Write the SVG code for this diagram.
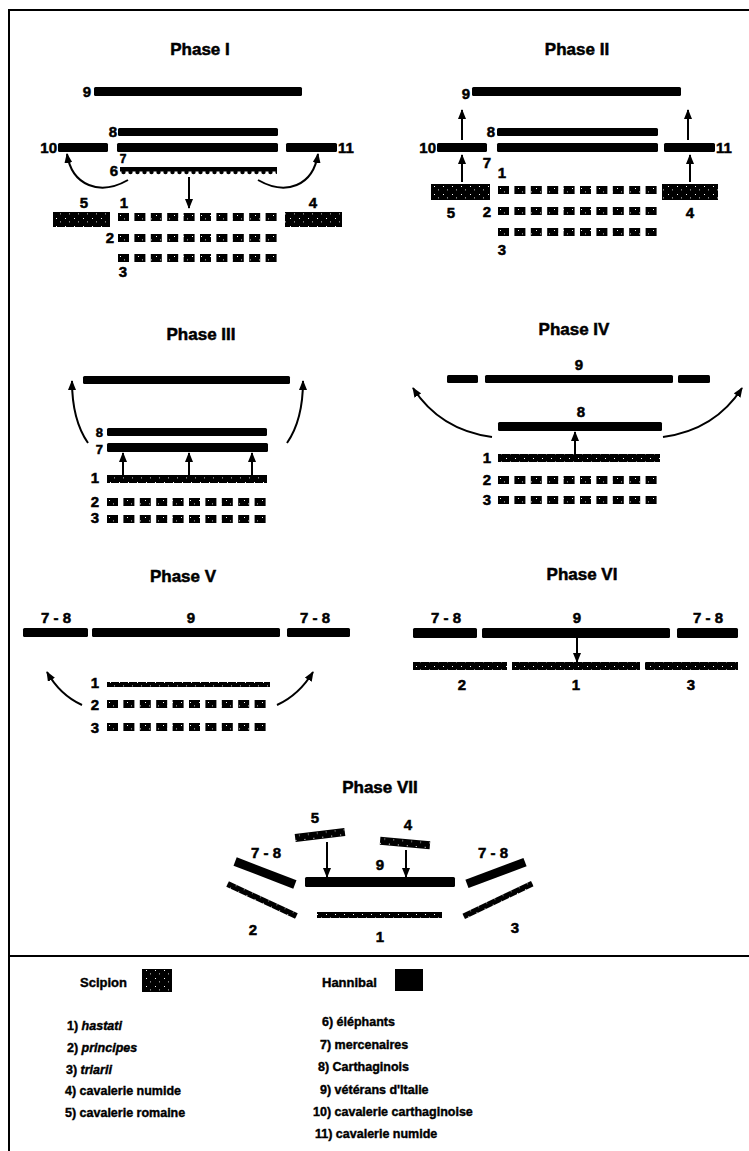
<svg xmlns="http://www.w3.org/2000/svg" xmlns:xlink="http://www.w3.org/1999/xlink" width="749" height="1151" viewBox="0 0 749 1151">
<style>
text{font-family:"Liberation Sans",Arial,Helvetica,sans-serif;font-weight:bold;fill:#000;stroke:#000;stroke-width:0.5}
.t{font-size:17px;text-anchor:middle}
.l{font-size:15px}
.m{text-anchor:middle}
.e{text-anchor:end}
.g{font-size:12.5px;stroke-width:0.4}
.it{font-style:italic}
.bar{fill:#000}
.rom{fill:url(#rom)}
.frame{stroke:#000;stroke-width:2;fill:none}
.arr{stroke:#000;stroke-width:2;fill:none;marker-end:url(#ah)}
</style>
<defs>
<pattern id="rom" width="9" height="8" patternUnits="userSpaceOnUse">
<rect width="9" height="8" fill="#000"/>
<rect x="2" y="2" width="1" height="1" fill="#fff"/>
<rect x="6" y="5.5" width="1" height="0.8" fill="#fff"/>
</pattern>
<pattern id="eleph" x="120" y="167" width="7" height="9" patternUnits="userSpaceOnUse">
<rect width="7" height="4.5" fill="#000"/>
<circle cx="3.5" cy="5" r="2.2" fill="#000"/>
</pattern>
<marker id="ah" viewBox="0 0 10 8" refX="9" refY="4" markerWidth="10" markerHeight="8" markerUnits="userSpaceOnUse" orient="auto">
<path d="M0,0 L10,4 L0,8 z" fill="#000"/>
</marker>
<g id="row">
<rect x="0" width="11" height="8" class="rom"/>
<rect x="16.4" width="11" height="8" class="rom"/>
<rect x="32.8" width="11" height="8" class="rom"/>
<rect x="49.2" width="11" height="8" class="rom"/>
<rect x="65.6" width="11" height="8" class="rom"/>
<rect x="82" width="11" height="8" class="rom"/>
<rect x="98.4" width="11" height="8" class="rom"/>
<rect x="114.8" width="11" height="8" class="rom"/>
<rect x="131.2" width="11" height="8" class="rom"/>
<rect x="147.6" width="11" height="8" class="rom"/>
</g>
</defs>
<rect width="749" height="1151" fill="#fff"/>
<g id="frame">
<path class="frame" d="M9,1151 V10 H749"/>
<path class="frame" d="M9,956 H749"/>
</g>

<g id="phase1">
<text class="t" x="200" y="55">Phase I</text>
<g id="p1-u9"><rect class="bar" x="94" y="87" width="208" height="9" rx="1.5"/><text class="l e" x="91" y="97">9</text></g>
<g id="p1-u8"><rect class="bar" x="118" y="128" width="160" height="8" rx="1.5"/><text class="l e" x="117" y="137">8</text></g>
<g id="p1-u7"><rect class="bar" x="117" y="143" width="161" height="9" rx="1.5"/><text class="m" style="font-size:12px" x="123" y="163">7</text></g>
<g id="p1-u10"><rect class="bar" x="58" y="143" width="50" height="9" rx="1.5"/><text class="l e" x="57" y="153">10</text></g>
<g id="p1-u11"><rect class="bar" x="286" y="143" width="51" height="9" rx="1.5"/><text class="l" x="338" y="153">11</text></g>
<g id="p1-u6"><rect x="120" y="167" width="157" height="8" fill="url(#eleph)"/><text class="l e" x="118" y="176">6</text></g>
<g id="p1-u5"><rect class="rom" x="53" y="212" width="57" height="15"/><text class="l m" x="84" y="208">5</text></g>
<g id="p1-u4"><rect class="rom" x="285" y="212" width="57" height="15"/><text class="l m" x="313" y="208">4</text></g>
<g id="p1-u1"><use xlink:href="#row" x="118" y="213"/><text class="l m" x="124" y="208">1</text></g>
<g id="p1-u2"><use xlink:href="#row" x="118" y="234"/><text class="l e" x="114" y="243">2</text></g>
<g id="p1-u3"><use xlink:href="#row" x="118" y="254"/><text class="l m" x="123" y="277">3</text></g>
</g>

<g id="phase2">
<text class="t" x="577" y="55">Phase II</text>
<g id="p2-u9"><rect class="bar" x="472" y="87" width="209" height="9" rx="1.5"/><text class="l e" x="470" y="99">9</text></g>
<g id="p2-u8"><rect class="bar" x="497" y="128" width="161" height="8" rx="1.5"/><text class="l e" x="495" y="137">8</text></g>
<g id="p2-u7"><rect class="bar" x="497" y="143" width="161" height="9" rx="1.5"/><text class="l m" x="487" y="168">7</text></g>
<g id="p2-u10"><rect class="bar" x="437" y="143" width="50" height="9" rx="1.5"/><text class="l e" x="436" y="153">10</text></g>
<g id="p2-u11"><rect class="bar" x="664" y="143" width="51" height="9" rx="1.5"/><text class="l" x="716" y="153">11</text></g>
<g id="p2-u5"><rect class="rom" x="431" y="184" width="59" height="16"/><text class="l m" x="451" y="218">5</text></g>
<g id="p2-u4"><rect class="rom" x="662" y="184" width="56" height="16"/><text class="l m" x="690" y="218">4</text></g>
<g id="p2-u1"><use xlink:href="#row" x="498" y="186"/><text class="l m" x="502" y="178">1</text></g>
<g id="p2-u2"><use xlink:href="#row" x="498" y="207"/><text class="l e" x="491" y="217">2</text></g>
<g id="p2-u3"><use xlink:href="#row" x="498" y="228"/><text class="l m" x="502" y="255">3</text></g>
</g>

<g id="phase3">
<text class="t" x="201" y="340">Phase III</text>
<g id="p3-u9"><rect class="bar" x="83" y="376" width="207" height="8" rx="1.5"/></g>
<g id="p3-u8"><rect class="bar" x="107" y="428" width="160" height="8" rx="1.5"/><text class="e" style="font-size:13px" x="103" y="437">8</text></g>
<g id="p3-u7"><rect class="bar" x="107" y="443" width="161" height="9" rx="1.5"/><text class="e" style="font-size:13px" x="103" y="454">7</text></g>
<g id="p3-u1"><rect class="rom" x="107" y="475" width="160" height="8"/><text class="l e" x="99" y="483">1</text></g>
<g id="p3-u2"><use xlink:href="#row" x="107" y="498"/><text class="l e" x="99" y="507">2</text></g>
<g id="p3-u3"><use xlink:href="#row" x="107" y="515"/><text class="l e" x="99" y="523">3</text></g>
</g>

<g id="phase4">
<text class="t" x="574" y="335">Phase IV</text>
<g id="p4-u9"><rect class="bar" x="447" y="375" width="31" height="8" rx="1.5"/><rect class="bar" x="485" y="375" width="188" height="8" rx="1.5"/><rect class="bar" x="678" y="375" width="32" height="8" rx="1.5"/><text class="l m" x="579" y="370">9</text></g>
<g id="p4-u8"><rect class="bar" x="498" y="422" width="164" height="9" rx="1.5"/><text class="l m" x="581" y="417">8</text></g>
<g id="p4-u1"><rect class="rom" x="498" y="454" width="162" height="8"/><text class="l e" x="491" y="463">1</text></g>
<g id="p4-u2"><use xlink:href="#row" x="498" y="476"/><text class="l e" x="491" y="485">2</text></g>
<g id="p4-u3"><use xlink:href="#row" x="498" y="496"/><text class="l e" x="491" y="505">3</text></g>
</g>

<g id="phase5">
<text class="t" x="183" y="582">Phase V</text>
<g id="p5-u78l"><rect class="bar" x="23" y="628" width="65" height="9" rx="1.5"/><text class="l m" x="56" y="623">7 - 8</text></g>
<g id="p5-u9"><rect class="bar" x="92" y="628" width="188" height="9" rx="1.5"/><text class="l m" x="191" y="623">9</text></g>
<g id="p5-u78r"><rect class="bar" x="287" y="628" width="63" height="9" rx="1.5"/><text class="l m" x="315" y="623">7 - 8</text></g>
<g id="p5-u1"><rect class="rom" x="107" y="682" width="163" height="5"/><text class="l e" x="99" y="688">1</text></g>
<g id="p5-u2"><use xlink:href="#row" x="107" y="700"/><text class="l e" x="99" y="710">2</text></g>
<g id="p5-u3"><use xlink:href="#row" x="107" y="723"/><text class="l e" x="99" y="733">3</text></g>
</g>

<g id="phase6">
<text class="t" x="582" y="580">Phase VI</text>
<g id="p6-u78l"><rect class="bar" x="413" y="628" width="64" height="10" rx="1.5"/><text class="l m" x="446" y="623">7 - 8</text></g>
<g id="p6-u9"><rect class="bar" x="482" y="628" width="188" height="10" rx="1.5"/><text class="l m" x="577" y="623">9</text></g>
<g id="p6-u78r"><rect class="bar" x="677" y="628" width="61" height="10" rx="1.5"/><text class="l m" x="708" y="623">7 - 8</text></g>
<g id="p6-u2"><rect class="rom" x="413" y="662" width="94" height="8"/><text class="l m" x="462" y="690">2</text></g>
<g id="p6-u1"><rect class="rom" x="512" y="662" width="128" height="8"/><text class="l m" x="576" y="690">1</text></g>
<g id="p6-u3"><rect class="rom" x="645" y="662" width="93" height="8"/><text class="l m" x="691" y="690">3</text></g>
</g>

<g id="phase7">
<text class="t" x="380" y="793">Phase VII</text>
<g id="p7-u5"><rect class="rom" x="-25" y="-4" width="50" height="8" transform="translate(320,835) rotate(-7)"/><text class="l m" x="315" y="823">5</text></g>
<g id="p7-u4"><rect class="rom" x="-25" y="-4" width="50" height="8" transform="translate(405,843) rotate(5)"/><text class="l m" x="408" y="830">4</text></g>
<g id="p7-u9"><rect class="bar" x="305" y="877" width="150" height="10" rx="1.5"/><text class="l m" x="380" y="870">9</text></g>
<g id="p7-u78l"><rect class="bar" x="-32" y="-4.5" width="64" height="9" transform="translate(265,873) rotate(21)"/><text class="l m" x="266" y="858">7 - 8</text></g>
<g id="p7-u78r"><rect class="bar" x="-31" y="-4.5" width="62" height="9" transform="translate(496,873) rotate(-20.5)"/><text class="l m" x="493" y="858">7 - 8</text></g>
<g id="p7-u2"><rect class="rom" x="-38" y="-3" width="76" height="6" transform="translate(262,900) rotate(25)"/><text class="l m" x="253" y="935">2</text></g>
<g id="p7-u1"><rect class="rom" x="317" y="912" width="125" height="6"/><text class="l m" x="380" y="942">1</text></g>
<g id="p7-u3"><rect class="rom" x="-38" y="-3" width="76" height="6" transform="translate(498,900) rotate(-25.5)"/><text class="l m" x="515" y="933">3</text></g>
</g>

<g id="connectors">
<path class="arr" d="M189,177 V208"/>
<path class="arr" d="M128,180 C100,196 72,186 67,154"/>
<path class="arr" d="M258,180 C286,196 313,186 318,154"/>
<path class="arr" d="M462,140 V110"/>
<path class="arr" d="M688,140 V110"/>
<path class="arr" d="M462,182 V155"/>
<path class="arr" d="M690,182 V155"/>
<path class="arr" d="M88,443 Q72,420 72,381"/>
<path class="arr" d="M287,443 Q303,420 303,381"/>
<path class="arr" d="M123,475 V453"/>
<path class="arr" d="M189,475 V453"/>
<path class="arr" d="M252,475 V453"/>
<path class="arr" d="M492,437 Q440,430 413,388"/>
<path class="arr" d="M663,437 Q715,430 742,388"/>
<path class="arr" d="M575,454 V432"/>
<path class="arr" d="M82,705 Q60,695 47,672"/>
<path class="arr" d="M277,705 Q299,695 313,672"/>
<path class="arr" d="M577,638 V662"/>
<path class="arr" d="M327,842 V877"/>
<path class="arr" d="M406,850 V877"/>
</g>

<g id="legend">
<g id="legend-scipion"><text class="g" style="font-size:13px" x="80" y="987">Scipion</text><rect class="rom" x="142" y="969" width="30" height="23"/></g>
<g id="legend-hannibal"><text class="g" style="font-size:13px" x="322" y="987">Hannibal</text><rect class="bar" x="395" y="969" width="28" height="22"/></g>
<text class="g" x="67" y="1030">1) <tspan class="it">hastati</tspan></text>
<text class="g" x="67" y="1052">2) <tspan class="it">principes</tspan></text>
<text class="g" x="66" y="1074">3) <tspan class="it">triarii</tspan></text>
<text class="g" x="65" y="1095">4) cavalerie numide</text>
<text class="g" x="65" y="1117">5) cavalerie romaine</text>
<text class="g" x="322" y="1026">6) éléphants</text>
<text class="g" x="320" y="1049">7) mercenaires</text>
<text class="g" x="318" y="1071">8) Carthaginois</text>
<text class="g" x="320" y="1094">9) vétérans d'Italie</text>
<text class="g" x="313" y="1116">10) cavalerie carthaginoise</text>
<text class="g" x="315" y="1138">11) cavalerie numide</text>
</g>
</svg>
